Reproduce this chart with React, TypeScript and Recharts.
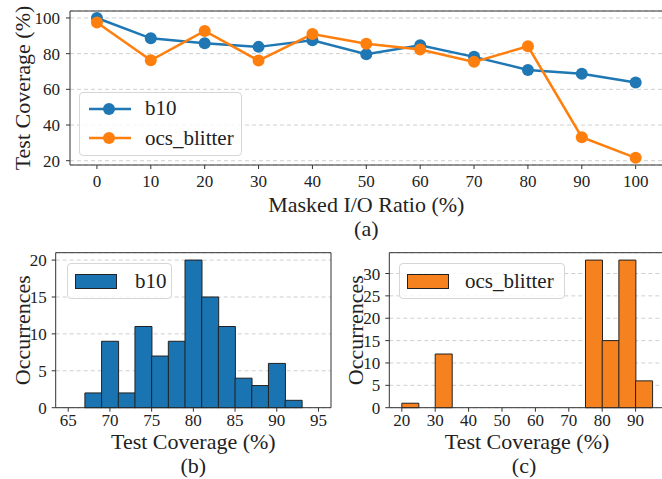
import React from "react";
import {
  LineChart,
  Line,
  BarChart,
  Bar,
  XAxis,
  YAxis,
  CartesianGrid,
  ReferenceArea,
  Legend,
  Label,
} from "recharts";

// (a) coverage vs masked I/O ratio
const maskRatios = [0, 10, 20, 30, 40, 50, 60, 70, 80, 90, 100];
const b10Coverage = [100, 88.6, 85.8, 83.8, 87.5, 79.7, 84.7, 78.2, 70.9, 68.7, 63.8];
const ocsCoverage = [97.5, 76.3, 92.7, 76.1, 91.0, 85.6, 82.3, 75.4, 84.1, 33.2, 21.6];
const coverageTicks = [20, 40, 60, 80, 100];

// (b) b10 histogram, bins of width 2 from 65 to 95
const b10BinCenters = [66, 68, 70, 72, 74, 76, 78, 80, 82, 84, 86, 88, 90, 92, 94];
const b10Counts = [0, 2, 9, 2, 11, 7, 9, 20, 15, 11, 4, 3, 6, 1, 0];
const b10XTicks = [65, 70, 75, 80, 85, 90, 95];
const b10YTicks = [0, 5, 10, 15, 20];

// (c) ocs_blitter histogram, bins of width 5 from 20 to 95
const ocsBinCenters = [22.5, 27.5, 32.5, 37.5, 42.5, 47.5, 52.5, 57.5, 62.5, 67.5, 72.5, 77.5, 82.5, 87.5, 92.5];
const ocsCounts = [1, 0, 12, 0, 0, 0, 0, 0, 0, 0, 0, 33, 15, 33, 6];
const ocsXTicks = [20, 30, 40, 50, 60, 70, 80, 90];
const ocsYTicks = [0, 5, 10, 15, 20, 25, 30];

const BLUE = "#1f77b4";
const ORANGE = "#ff7f0e";
const BAR_BLUE = "#1a74b2";
const BAR_ORANGE = "#f5821f";
const FONT = "Liberation Serif";
const INK = "#222";
const FRAME = "#333";

const tickStyle = { fill: INK, fontSize: 17, fontFamily: FONT };
const labelStyle = { fill: INK, fontSize: 22, fontFamily: FONT };

const lineData = maskRatios.map((r, i) => ({
  ratio: r,
  b10: b10Coverage[i],
  ocs: ocsCoverage[i],
}));
const b10Data = b10BinCenters.map((c, i) => ({ center: c, count: b10Counts[i] }));
const ocsData = ocsBinCenters.map((c, i) => ({ center: c, count: ocsCounts[i] }));

const legendBox = {
  border: "1px solid #d6d6d6",
  borderRadius: 4,
  background: "rgba(255,255,255,0.8)",
  fontFamily: FONT,
  fontSize: 21,
  color: INK,
  boxSizing: "border-box" as const,
};

const LineLegend = ({ payload }: any) => (
  <div style={{ ...legendBox, width: 163, height: 64, padding: "1px 0 0 9px" }}>
    {(payload || []).map((entry: any) => (
      <div key={entry.value} style={{ display: "flex", alignItems: "center", height: 29.4 }}>
        <svg width={42} height={14}>
          <line x1={0} y1={7} x2={42} y2={7} stroke={entry.color} strokeWidth={2.5} />
          <circle cx={20} cy={7} r={6} fill={entry.color} />
        </svg>
        <span style={{ marginLeft: 14 }}>{entry.value}</span>
      </div>
    ))}
  </div>
);

const barLegend = (width: number, gap: number) => ({ payload }: any) => (
  <div style={{ ...legendBox, width, height: 36, padding: "0 0 0 7px" }}>
    {(payload || []).map((entry: any) => (
      <div key={entry.value} style={{ display: "flex", alignItems: "center", height: 34 }}>
        <svg width={42} height={15}>
          <rect x={0.5} y={0.5} width={41} height={14} fill={entry.color} stroke={INK} />
        </svg>
        <span style={{ marginLeft: gap }}>{entry.value}</span>
      </div>
    ))}
  </div>
);

export default function App() {
  return (
    <div
      style={{
        position: "absolute",
        left: 0,
        top: 0,
        width: 662,
        height: 479,
        overflow: "hidden",
        background: "#fff",
        fontFamily: FONT,
      }}
    >
      {/* (a) line chart */}
      <div style={{ position: "absolute", left: 0, top: 0 }}>
        <LineChart width={680} height={240} data={lineData} margin={{ top: 11, right: 17.4, bottom: 0, left: 0 }}>
          <CartesianGrid vertical={false} stroke="#cfcfcf" strokeDasharray="4 3" />
          <XAxis
            dataKey="ratio"
            type="number"
            domain={[-5, 105]}
            ticks={maskRatios}
            interval={0}
            height={75}
            axisLine={false}
            tickLine={{ stroke: FRAME }}
            tickSize={4}
            tickMargin={6}
            tick={tickStyle}
          >
            <Label value="Masked I/O Ratio (%)" position="center" dy={2} style={labelStyle} />
            <Label value="(a)" position="center" dy={26} style={labelStyle} />
          </XAxis>
          <YAxis
            type="number"
            domain={[17.6, 103.9]}
            ticks={coverageTicks}
            interval={0}
            width={70}
            axisLine={false}
            tickLine={{ stroke: FRAME }}
            tickSize={4}
            tickMargin={6}
            tick={tickStyle}
          >
            <Label value="Test Coverage (%)" position="center" angle={-90} dx={-13} style={labelStyle} />
          </YAxis>
          <ReferenceArea x1={-5} x2={105} y1={17.6} y2={103.9} fill="none" stroke={FRAME} strokeWidth={1} />
          <Legend
            layout="vertical"
            align="center"
            verticalAlign="middle"
            content={LineLegend}
            wrapperStyle={{ left: 79, top: 92, width: "auto" }}
          />
          <Line
            dataKey="b10"
            name="b10"
            stroke={BLUE}
            strokeWidth={2.5}
            dot={{ r: 6, fill: BLUE, stroke: BLUE, strokeWidth: 0 }}
            isAnimationActive={false}
          />
          <Line
            dataKey="ocs"
            name="ocs_blitter"
            stroke={ORANGE}
            strokeWidth={2.5}
            dot={{ r: 6, fill: ORANGE, stroke: ORANGE, strokeWidth: 0 }}
            isAnimationActive={false}
          />
        </LineChart>
      </div>

      {/* (b) b10 histogram */}
      <div style={{ position: "absolute", left: 0, top: 240 }}>
        <BarChart
          width={340}
          height={239}
          data={b10Data}
          barCategoryGap={0}
          barGap={0}
          margin={{ top: 12.7, right: 9, bottom: 0, left: 0 }}
        >
          <CartesianGrid vertical={false} stroke="#cfcfcf" strokeDasharray="4 3" />
          <XAxis
            dataKey="center"
            type="number"
            domain={[63.5, 96.5]}
            ticks={b10XTicks}
            interval={0}
            height={71.3}
            axisLine={false}
            tickLine={{ stroke: FRAME }}
            tickSize={4}
            tickMargin={2}
            tick={tickStyle}
          >
            <Label value="Test Coverage (%)" position="center" dy={-2} style={labelStyle} />
            <Label value="(b)" position="center" dy={22} style={labelStyle} />
          </XAxis>
          <YAxis
            type="number"
            domain={[0, 21]}
            ticks={b10YTicks}
            interval={0}
            width={55.7}
            axisLine={false}
            tickLine={{ stroke: FRAME }}
            tickSize={4}
            tickMargin={5}
            tick={tickStyle}
          >
            <Label value="Occurrences" position="center" angle={-90} dx={-6} style={labelStyle} />
          </YAxis>
          <ReferenceArea x1={63.5} x2={96.5} y1={0} y2={21} fill="none" stroke={FRAME} strokeWidth={1} />
          <Legend
            layout="vertical"
            align="center"
            verticalAlign="middle"
            content={barLegend(105, 18)}
            wrapperStyle={{ left: 67, top: 23, width: "auto" }}
          />
          <Bar dataKey="count" name="b10" fill={BAR_BLUE} stroke={INK} strokeWidth={1} isAnimationActive={false} />
        </BarChart>
      </div>

      {/* (c) ocs_blitter histogram */}
      <div style={{ position: "absolute", left: 335, top: 240 }}>
        <BarChart
          width={340}
          height={239}
          data={ocsData}
          barCategoryGap={0}
          barGap={0}
          margin={{ top: 12.7, right: 10.2, bottom: 0, left: 0 }}
        >
          <CartesianGrid vertical={false} stroke="#cfcfcf" strokeDasharray="4 3" />
          <XAxis
            dataKey="center"
            type="number"
            domain={[16.25, 98.75]}
            ticks={ocsXTicks}
            interval={0}
            height={71.3}
            axisLine={false}
            tickLine={{ stroke: FRAME }}
            tickSize={4}
            tickMargin={2}
            tick={tickStyle}
          >
            <Label value="Test Coverage (%)" position="center" dy={-2} style={labelStyle} />
            <Label value="(c)" position="center" dx={-3} dy={22} style={labelStyle} />
          </XAxis>
          <YAxis
            type="number"
            domain={[0, 34.65]}
            ticks={ocsYTicks}
            interval={0}
            width={54.3}
            axisLine={false}
            tickLine={{ stroke: FRAME }}
            tickSize={4}
            tickMargin={5}
            tick={tickStyle}
          >
            <Label value="Occurrences" position="center" angle={-90} dx={-7} style={labelStyle} />
          </YAxis>
          <ReferenceArea x1={16.25} x2={98.75} y1={0} y2={34.65} fill="none" stroke={FRAME} strokeWidth={1} />
          <Legend
            layout="vertical"
            align="center"
            verticalAlign="middle"
            content={barLegend(166, 16)}
            wrapperStyle={{ left: 64, top: 23, width: "auto" }}
          />
          <Bar dataKey="count" name="ocs_blitter" fill={BAR_ORANGE} stroke={INK} strokeWidth={1} isAnimationActive={false} />
        </BarChart>
      </div>
    </div>
  );
}
